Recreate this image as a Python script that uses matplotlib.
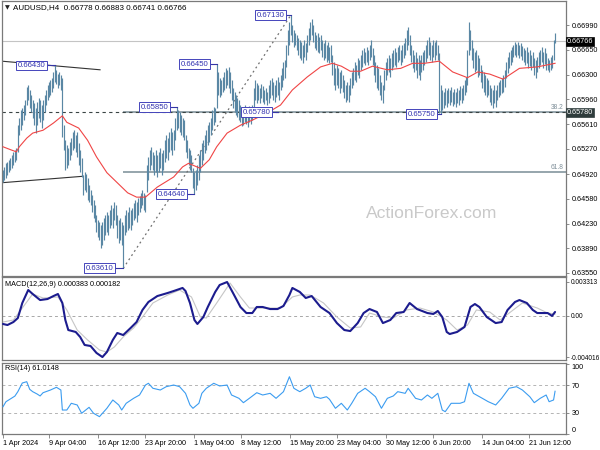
import numpy as np
import matplotlib
matplotlib.use("Agg")
import matplotlib.pyplot as plt

plt.rcParams['font.family'] = ['Liberation Sans', 'DejaVu Sans']

# ---------------- DATA ----------------
symbol_title = "AUDUSD,H4  0.66778 0.66883 0.66741 0.66766"

high = [
 0.6498,0.6502,0.6507,0.6509,0.6512,0.6514,0.6519,0.6523,0.6526,0.6528,
 0.6560,0.6570,0.6581,0.6584,0.6588,0.6595,0.6613,0.6616,0.6609,0.6602,
 0.6595,0.6591,0.6584,0.6592,0.6598,0.6595,0.6588,0.6595,0.6602,0.6609,
 0.6616,0.6620,0.6623,0.6626,0.6634,0.6643,0.6637,0.6631,0.6634,0.6630,
 0.6626,0.6560,0.6539,0.6532,0.6528,0.6537,0.6542,0.6551,0.6553,0.6546,
 0.6551,0.6535,0.6526,0.6514,0.6491,0.6495,0.6492,0.6487,0.6477,0.6470,
 0.6463,0.6456,0.6449,0.6435,0.6428,0.6425,0.6421,0.6425,0.6431,0.6435,
 0.6439,0.6435,0.6442,0.6449,0.6445,0.6453,0.6449,0.6435,0.6428,0.6431,
 0.6425,0.6421,0.6435,0.6442,0.6439,0.6446,0.6442,0.6445,0.6452,0.6456,
 0.6453,0.6459,0.6462,0.6466,0.6470,0.6466,0.6463,0.6505,0.6516,0.6526,
 0.6530,0.6523,0.6519,0.6526,0.6519,0.6523,0.6528,0.6521,0.6526,0.6539,
 0.6546,0.6542,0.6551,0.6556,0.6551,0.6553,0.6570,0.6585,0.6581,0.6578,
 0.6574,0.6570,0.6567,0.6546,0.6539,0.6528,0.6526,0.6519,0.6500,0.6495,
 0.6498,0.6505,0.6519,0.6526,0.6535,0.6539,0.6546,0.6553,0.6560,0.6564,
 0.6570,0.6581,0.6585,0.6584,0.6645,0.6634,0.6626,0.6623,0.6627,0.6634,
 0.6639,0.6637,0.6641,0.6634,0.6623,0.6612,0.6606,0.6602,0.6598,0.6595,
 0.6588,0.6584,0.6581,0.6588,0.6584,0.6581,0.6587,0.6584,0.6588,0.6612,
 0.6623,0.6619,0.6616,0.6612,0.6617,0.6614,0.6609,0.6612,0.6606,0.6616,
 0.6623,0.6626,0.6620,0.6616,0.6623,0.6627,0.6620,0.6630,0.6639,0.6648,
 0.6651,0.6671,0.6692,0.6703,0.6713,0.6699,0.6692,0.6688,0.6685,0.6681,
 0.6678,0.6676,0.6671,0.6678,0.6674,0.6685,0.6695,0.6703,0.6708,0.6699,
 0.6690,0.6685,0.6688,0.6683,0.6685,0.6678,0.6674,0.6678,0.6671,0.6676,
 0.6669,0.6671,0.6658,0.6648,0.6639,0.6644,0.6639,0.6634,0.6637,0.6630,
 0.6623,0.6616,0.6620,0.6616,0.6626,0.6634,0.6639,0.6648,0.6644,0.6653,
 0.6651,0.6658,0.6665,0.6667,0.6662,0.6669,0.6665,0.6671,0.6678,0.6667,
 0.6658,0.6648,0.6644,0.6639,0.6630,0.6620,0.6616,0.6637,0.6648,0.6653,
 0.6658,0.6653,0.6660,0.6665,0.6667,0.6662,0.6669,0.6671,0.6665,0.6671,
 0.6674,0.6681,0.6692,0.6696,0.6685,0.6671,0.6665,0.6658,0.6662,0.6653,
 0.6658,0.6651,0.6658,0.6662,0.6665,0.6671,0.6678,0.6683,0.6676,0.6671,
 0.6678,0.6676,0.6678,0.6671,0.6660,0.6616,0.6609,0.6606,0.6612,0.6609,
 0.6612,0.6609,0.6613,0.6606,0.6610,0.6606,0.6612,0.6609,0.6614,0.6612,
 0.6616,0.6623,0.6627,0.6665,0.6703,0.6692,0.6678,0.6667,0.6662,0.6665,
 0.6658,0.6653,0.6644,0.6637,0.6634,0.6630,0.6626,0.6623,0.6616,0.6612,
 0.6609,0.6616,0.6609,0.6616,0.6620,0.6623,0.6626,0.6630,0.6637,0.6648,
 0.6655,0.6662,0.6665,0.6669,0.6671,0.6676,0.6673,0.6676,0.6671,0.6674,
 0.6670,0.6667,0.6665,0.6669,0.6662,0.6665,0.6658,0.6662,0.6653,0.6651,
 0.6655,0.6662,0.6665,0.6669,0.6662,0.6667,0.6660,0.6653,0.6651,0.6655,
 0.6658,0.6678,0.66883]

low = [
 0.6481,0.6484,0.6487,0.6491,0.6495,0.6498,0.6500,0.6505,0.6509,0.6512,
 0.6523,0.6546,0.6553,0.6560,0.6567,0.6574,0.6588,0.6595,0.6584,0.6578,
 0.6570,0.6560,0.6549,0.6560,0.6570,0.6564,0.6556,0.6567,0.6578,0.6588,
 0.6595,0.6599,0.6602,0.6606,0.6612,0.6620,0.6617,0.6612,0.6616,0.6609,
 0.6544,0.6526,0.6498,0.6500,0.6505,0.6512,0.6519,0.6526,0.6528,0.6523,
 0.6516,0.6505,0.6495,0.6488,0.6463,0.6470,0.6467,0.6456,0.6453,0.6449,
 0.6439,0.6431,0.6425,0.6412,0.6405,0.6400,0.6389,0.6393,0.6400,0.6407,
 0.6412,0.6407,0.6417,0.6421,0.6417,0.6428,0.6421,0.6403,0.6396,0.6400,
 0.6393,0.6361,0.6407,0.6412,0.6414,0.6417,0.6414,0.6421,0.6428,0.6431,
 0.6425,0.6435,0.6439,0.6445,0.6449,0.6442,0.6439,0.6467,0.6484,0.6498,
 0.6505,0.6498,0.6491,0.6495,0.6488,0.6495,0.6500,0.6491,0.6498,0.6509,
 0.6514,0.6512,0.6523,0.6526,0.6519,0.6526,0.6539,0.6553,0.6556,0.6551,
 0.6546,0.6544,0.6539,0.6523,0.6514,0.6505,0.6498,0.6495,0.6473,0.6464,
 0.6470,0.6477,0.6484,0.6495,0.6505,0.6512,0.6521,0.6526,0.6532,0.6537,
 0.6546,0.6553,0.6560,0.6564,0.6584,0.6602,0.6599,0.6602,0.6606,0.6609,
 0.6612,0.6616,0.6612,0.6605,0.6595,0.6584,0.6578,0.6574,0.6571,0.6567,
 0.6564,0.6559,0.6560,0.6564,0.6562,0.6557,0.6564,0.6562,0.6567,0.6581,
 0.6595,0.6591,0.6595,0.6591,0.6598,0.6592,0.6589,0.6595,0.6588,0.6591,
 0.6598,0.6602,0.6595,0.6592,0.6599,0.6602,0.6595,0.6609,0.6613,0.6623,
 0.6626,0.6641,0.6658,0.6671,0.6685,0.6676,0.6669,0.6671,0.6665,0.6658,
 0.6653,0.6651,0.6646,0.6655,0.6651,0.6662,0.6671,0.6678,0.6685,0.6676,
 0.6667,0.6665,0.6662,0.6660,0.6665,0.6655,0.6651,0.6653,0.6648,0.6651,
 0.6646,0.6648,0.6630,0.6616,0.6609,0.6616,0.6612,0.6605,0.6612,0.6606,
 0.6598,0.6592,0.6595,0.6592,0.6602,0.6612,0.6616,0.6623,0.6620,0.6630,
 0.6626,0.6637,0.6641,0.6646,0.6644,0.6648,0.6644,0.6651,0.6655,0.6644,
 0.6630,0.6620,0.6612,0.6609,0.6602,0.6595,0.6591,0.6609,0.6623,0.6630,
 0.6634,0.6627,0.6637,0.6641,0.6644,0.6641,0.6648,0.6651,0.6644,0.6648,
 0.6653,0.6658,0.6665,0.6671,0.6658,0.6648,0.6639,0.6634,0.6637,0.6626,
 0.6630,0.6623,0.6634,0.6637,0.6644,0.6648,0.6653,0.6658,0.6651,0.6648,
 0.6655,0.6651,0.6658,0.6651,0.6577,0.6575,0.6581,0.6584,0.6588,0.6585,
 0.6591,0.6588,0.6592,0.6587,0.6589,0.6585,0.6591,0.6588,0.6595,0.6591,
 0.6595,0.6602,0.6606,0.6616,0.6658,0.6665,0.6651,0.6639,0.6634,0.6637,
 0.6627,0.6630,0.6620,0.6612,0.6606,0.6602,0.6599,0.6602,0.6592,0.6588,
 0.6584,0.6591,0.6585,0.6595,0.6599,0.6602,0.6605,0.6606,0.6613,0.6626,
 0.6633,0.6639,0.6644,0.6648,0.6655,0.6658,0.6655,0.6658,0.6653,0.6656,
 0.6651,0.6648,0.6644,0.6646,0.6639,0.6642,0.6637,0.6641,0.6630,0.6626,
 0.6634,0.6639,0.6644,0.6648,0.6639,0.6645,0.6637,0.6637,0.6634,0.6637,
 0.6639,0.6651,0.66741]

# moving average read at selected bars
ma_bar = [0,5,9,11,16,20,27,34,40,43,51,57,63,70,77,84,90,96,104,115,121,125,133,
          139,144,151,160,168,178,187,195,205,214,222,228,234,241,249,259,268,276,
          284,294,303,313,320,328,337,348,360,372]
ma_val = [0.6530,0.6526,0.6523,0.6530,0.6542,0.6549,0.6553,0.6563,0.6573,0.6564,0.6556,
          0.6539,0.6516,0.6494,0.6480,0.6466,0.6460,0.6460,0.6474,0.6488,0.6502,0.6507,
          0.6500,0.6512,0.6530,0.6549,0.6560,0.6567,0.6577,0.6588,0.6609,0.6627,0.6641,
          0.6646,0.6642,0.6635,0.6635,0.6642,0.6637,0.6639,0.6646,0.6646,0.6649,0.6634,
          0.6626,0.6634,0.6631,0.6624,0.6639,0.6641,0.6646]

macd_bar = [0,3,7,10,13,17,20,25,30,34,37,40,42,44,49,52,55,59,63,67,70,74,77,81,86,90,
            94,98,104,111,115,121,123,126,129,131,135,138,143,146,151,155,160,164,168,
            171,175,180,185,189,193,195,200,204,208,214,220,225,230,234,239,243,247,252,
            256,261,265,270,274,279,286,290,293,296,299,301,306,311,315,318,321,326,332,
            336,340,345,348,353,357,360,364,367,370,372]
macd_val = [-0.00079,-0.00089,-0.00060,-0.00021,0.00126,0.00253,0.00214,0.00155,0.00165,
            0.00194,0.00214,0.00126,-0.00040,-0.00138,-0.00157,-0.00206,-0.00284,-0.00294,
            -0.00362,-0.00402,-0.00353,-0.00235,-0.00167,-0.00187,-0.00118,-0.00060,0.00058,
            0.00136,0.00194,0.00224,0.00243,0.00273,0.00243,0.00126,-0.00040,-0.00079,
            -0.00011,0.00087,0.00234,0.00302,0.00331,0.00224,0.00087,0.00028,0.00028,
            0.00087,0.00087,0.00067,0.00067,0.00097,0.00204,0.00273,0.00234,0.00175,
            0.00194,0.00087,0.00028,-0.00070,-0.00138,-0.00148,-0.00070,0.00028,0.00067,
            0.00038,-0.00070,-0.00040,0.00028,0.00038,0.00126,0.00067,0.00028,0.00019,
            0.00048,-0.00011,-0.00157,-0.00177,-0.00157,-0.00108,0.00087,0.00116,0.00087,
            -0.00011,-0.00070,-0.00060,0.00058,0.00136,0.00155,0.00126,0.00058,0.00028,
            0.00028,0.00028,0.0,0.000383]
sig_bar = [0,7,13,20,27,37,43,50,57,65,70,75,81,88,94,101,111,119,127,133,137,144,153,
           160,166,175,187,195,200,207,216,225,234,241,247,256,263,272,281,290,299,306,
           313,319,328,335,342,350,360,367,372]
sig_val = [-0.00060,-0.00040,0.00077,0.00214,0.00175,0.00185,0.00058,-0.00138,-0.00235,
           -0.00333,-0.00353,-0.00304,-0.00206,-0.00118,-0.00011,0.00126,0.00204,0.00253,
           0.00185,-0.00011,-0.00021,0.00126,0.00321,0.00185,0.00077,0.00077,0.00077,
           0.00185,0.00204,0.00204,0.00126,-0.00011,-0.00118,-0.00108,0.00028,-0.00011,
           -0.00021,0.00058,0.00077,0.00038,-0.00040,-0.00138,-0.00089,0.00058,0.00038,
           -0.00040,0.00038,0.00126,0.00077,0.00028,0.000182]

rsi_bar = [0,2,6,8,10,13,16,18,20,23,25,27,32,36,39,40,43,46,50,53,58,61,65,70,74,78,80,
           83,88,92,96,98,101,106,110,115,119,123,126,128,132,134,137,142,146,151,154,159,
           162,166,171,175,180,184,189,193,196,198,200,204,207,210,214,218,220,224,228,232,
           235,239,244,247,251,255,259,263,266,271,273,278,282,286,289,293,296,298,302,308,
           311,314,317,323,327,332,336,341,346,350,355,358,362,366,368,371,372]
rsi_val = [38.7,45.9,51.3,54.0,60.4,72.9,74.8,63.8,60.4,57.0,54.2,58.9,62.8,66.7,62.8,
           33.9,33.9,43.6,41.2,29.2,37.8,29.2,24.3,36.4,48.4,41.2,33.9,43.6,50.8,55.6,
           70.0,72.5,65.3,62.8,67.6,70.0,67.6,58.0,41.2,36.4,43.6,58.0,65.3,72.5,68.6,
           70.0,55.6,50.8,44.5,50.8,58.9,55.6,58.0,50.8,60.4,82.0,65.3,62.8,60.4,65.3,
           70.0,53.1,50.8,53.1,49.4,36.4,43.6,33.9,43.6,58.0,65.3,60.4,53.1,36.4,50.8,
           54.2,60.4,58.0,65.3,50.8,48.4,55.6,50.8,58.0,33.9,31.5,43.6,43.6,45.9,72.5,
           58.0,50.8,45.9,41.2,50.8,65.3,67.6,62.8,53.1,44.5,50.8,55.6,45.9,48.4,61.0148]

price_ticks = [0.66990, 0.66650, 0.66300, 0.65960, 0.65610, 0.65270,
               0.64920, 0.64580, 0.64230, 0.63890, 0.63550]
last_price = 0.66766
level_price = 0.65780
fib_low, fib_high = 0.6361, 0.6713
fib_low_bar, fib_high_bar = 81, 194
fib_levels = [38.2, 61.8]

# swing labels: text, box right edge (bar), swing bar, price
swing_labels = [("0.66430", 29.6, 35, 0.6643),
                ("0.66450", 139.5, 144, 0.6645),
                ("0.67130", 190.7, 194, 0.6713),
                ("0.65850", 112.5, 117, 0.6585),
                ("0.65780", 181.3, 185, 0.6578),
                ("0.64640", 124.0, 129, 0.6464),
                ("0.63610", 75.5, 81, 0.6361),
                ("0.65750", 292.5, 295, 0.6575)]

trend_upper = ([-1.0, 65.4], [0.6649, 0.6637])
trend_lower = ([-1.0, 53.9], [0.6480, 0.6489])

macd_ticks = [0.003313, 0.0, -0.004016]
macd_labels = ["0.003313", "0.00", "-0.004016"]
rsi_ticks = [100, 70, 30, 0]

xtick_first = "1 Apr 2024"
xtick_pos = [31.33, 63.68, 96.02, 128.37, 160.71, 193.06, 225.40, 257.75, 290.09, 322.44, 354.78]
xtick_labels = ["9 Apr 04:00", "16 Apr 12:00", "23 Apr 20:00", "1 May 04:00", "8 May 12:00",
                "15 May 20:00", "23 May 04:00", "30 May 12:00", "6 Jun 20:00",
                "14 Jun 04:00", "21 Jun 12:00"]

# ---------------- STYLE / LAYOUT ----------------
W, H = 600, 450
fig = plt.figure(figsize=(6, 4.5), dpi=100)
fig.patch.set_facecolor("white")

def rect(x0, y0, x1, y1):
    return [x0 / W, 1 - y1 / H, (x1 - x0) / W, (y1 - y0) / H]

ax = fig.add_axes(rect(2, 1, 566, 276))
axm = fig.add_axes(rect(2, 277, 566, 360))
axr = fig.add_axes(rect(2, 363, 566, 433.5))

XL = (-0.674, 379.38)
FS = 5.2
SPINE = "#7a7a7a"
BAR_C = "#5a87a4"

for a in (ax, axm, axr):
    a.set_xlim(*XL)
    a.set_facecolor("white")
    for s in a.spines.values():
        s.set_color(SPINE)
        s.set_linewidth(0.9)
    a.yaxis.tick_right()
    a.tick_params(axis="y", direction="out", length=2.5, width=0.6, pad=1.5,
                  labelsize=FS, colors=SPINE, labelcolor="black")

ax.set_ylim(0.63504, 0.67326)
axm.set_ylim(-0.004309, 0.003801)
axr.set_ylim(0, 101.8)

# ---- main panel ----
n = min(len(high), len(low))
idx = np.arange(n)
ax.vlines(idx, low[:n], high[:n], color=BAR_C, lw=0.85, zorder=3)
ax.plot(ma_bar, ma_val, color="#f04545", lw=0.8, zorder=4)

ax.axhline(last_price, color="#c4c4c4", lw=0.8, zorder=1)
ax.axhline(level_price, color="#3a4444", lw=0.8, ls=(0, (3, 3)), zorder=2)
rng = fib_high - fib_low
for lv in fib_levels:
    p = fib_high - rng * lv / 100.0
    ax.hlines(p, fib_low_bar, XL[1], color="#8e9ea6", lw=1.3, zorder=1.5)
    ax.text(377.5, p + 0.00012, f"{lv:.1f}", ha="right", va="bottom",
            fontsize=4.8, color="#7f8f99", zorder=5)
ax.plot([fib_low_bar, fib_high_bar], [fib_low, fib_high], color="#707070",
        lw=0.9, ls=(0, (1.5, 2.5)), zorder=2.5)
ax.plot(*trend_upper, color="#333333", lw=0.8, zorder=2.5)
ax.plot(*trend_lower, color="#333333", lw=0.8, zorder=2.5)

for txt, xr, xs, p in swing_labels:
    ax.plot([xr, xs], [p, p], color="#3535a5", lw=0.8, zorder=5)
    ax.text(xr - 1.2, p, txt, ha="right", va="center", fontsize=5.6, color="#3333b0",
            zorder=6, bbox=dict(boxstyle="square,pad=0.18", fc="white",
                                ec="#4545bb", lw=0.7))

ax.set_yticks(price_ticks)
ax.set_yticklabels([f"{v:.5f}" for v in price_ticks])
ax.set_xticks([])

ytr = ax.get_yaxis_transform()
ax.text(1.002, last_price, f"{last_price:.5f}", transform=ytr, ha="left", va="center",
        fontsize=FS, color="white", clip_on=False, zorder=10,
        bbox=dict(boxstyle="square,pad=0.12", fc="black", ec="black", lw=0.5))
ax.text(1.002, level_price, f"{level_price:.5f}", transform=ytr, ha="left", va="center",
        fontsize=FS, color="white", clip_on=False, zorder=10,
        bbox=dict(boxstyle="square,pad=0.12", fc="#2f3d3d", ec="#2f3d3d", lw=0.5))

fig.text(5 / W, 1 - 8 / H, "\u25BC", fontsize=4.5, color="#222222", va="center",
         family=["DejaVu Sans"])
fig.text(13 / W, 1 - 8 / H, symbol_title, fontsize=5.8, color="black", va="center")
fig.text(432 / W, 1 - 213 / H, "ActionForex.com", fontsize=12.6, color="#c9c9c9",
         ha="center", va="center")

# ---- MACD ----
axm.axhline(0, color="#a8a8a8", lw=0.7, ls=(0, (3, 3)), zorder=1)
axm.plot(sig_bar, sig_val, color="#c6c6c6", lw=0.8, zorder=2)
axm.plot(macd_bar, macd_val, color="#1c1c8e", lw=1.5, zorder=3,
         solid_joinstyle="round", solid_capstyle="round")
axm.set_yticks(macd_ticks)
axm.set_yticklabels(macd_labels)
axm.tick_params(axis="y", labelsize=4.7, pad=1.0, length=2.2)
axm.set_xticks([])
fig.text(5 / W, 1 - 284 / H, "MACD(12,26,9) 0.000383 0.000182", fontsize=FS,
         color="black", va="center")

# ---- RSI ----
for lv in (70, 30):
    axr.axhline(lv, color="#b4b4b4", lw=0.7, ls=(0, (3, 3)), zorder=1)
axr.plot(rsi_bar, rsi_val, color="#3b9cf0", lw=0.8, zorder=3)
axr.set_yticks(rsi_ticks)
axr.set_yticklabels([str(v) for v in rsi_ticks])
labs = axr.get_yticklabels()
labs[0].set_va("top")
labs[-1].set_va("bottom")
fig.text(5 / W, 1 - 369 / H, "RSI(14) 61.0148", fontsize=FS, color="black", va="center")

axr.set_xticks([-0.3] + xtick_pos)
axr.set_xticklabels([xtick_first] + xtick_labels)
axr.tick_params(axis="x", direction="out", length=3, width=0.6, pad=1.5,
                labelsize=FS, colors=SPINE, labelcolor="black")
for lab in axr.get_xticklabels():
    lab.set_ha("left")

fig.savefig("out.png", dpi=100, facecolor="white")
